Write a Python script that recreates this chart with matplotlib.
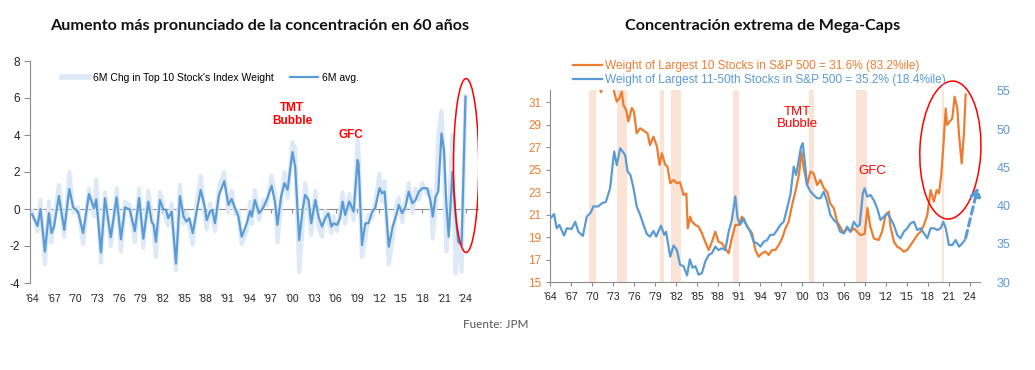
import matplotlib
matplotlib.use("Agg")
import matplotlib.pyplot as plt
from matplotlib.patches import Ellipse
from matplotlib.lines import Line2D

# ---------------- data: left chart ----------------
years_l = [1964.0, 1964.74, 1965.15, 1965.76, 1966.32, 1966.68, 1967.03, 1967.7, 1968.44, 1969.14,
           1969.68, 1970.35, 1971.05, 1971.86, 1972.56, 1972.87, 1973.52, 1974.08, 1974.88, 1975.69,
           1976.29, 1976.85, 1977.5, 1978.2, 1978.8, 1979.38, 1980.07, 1980.52, 1980.82, 1981.12,
           1981.68, 1982.13, 1982.53, 1982.83, 1983.3, 1983.9, 1984.45, 1984.95, 1985.35, 1985.76,
           1986.22, 1986.76, 1987.32, 1987.83, 1988.15, 1988.61, 1988.93, 1989.3, 1989.86, 1990.59,
           1991.16, 1991.6, 1992.08, 1992.54, 1993.0, 1993.7, 1994.16, 1994.39, 1994.82, 1995.4,
           1996.0, 1996.46, 1997.14, 1997.62, 1997.94, 1998.45, 1998.91, 1999.35, 2000.02, 2000.4,
           2000.95, 2001.41, 2001.78, 2002.25, 2002.62, 2003.19, 2003.63, 2004.1, 2004.56, 2005.0,
           2005.41, 2005.71, 2006.21, 2006.61, 2006.96, 2007.32, 2007.88, 2008.49, 2009.03, 2009.17,
           2009.64, 2010.1, 2010.55, 2011.06, 2011.46, 2012.07, 2012.42, 2012.78, 2013.35, 2013.89,
           2014.4, 2014.74, 2015.2, 2015.67, 2016.11, 2016.62, 2017.06, 2017.53, 2017.98, 2018.68,
           2019.14, 2019.44, 2019.83, 2020.2, 2020.65, 2020.99, 2021.31, 2021.65, 2022.16, 2022.6,
           2022.96, 2023.43, 2023.97]
avg_6m = [-0.29, -0.92, 0.0, -2.3, -0.23, -1.3, -0.95, 0.7, -1.13, 1.08,
          0.09, -0.15, -1.3, 0.81, 0.03, 0.52, -2.36, 0.58, -1.53, 0.63,
          -1.64, 0.09, -0.02, -1.2, 0.6, -1.6, 0.4, -0.68, -0.86, -1.77,
          0.49, -0.02, -0.05, -0.5, -0.14, -2.95, 0.7, -0.41, -0.68, -0.5,
          -1.3, -0.14, 1.03, 0.22, -0.6, -0.14, -0.05, -0.77, 0.76, 1.51,
          0.22, 0.54, 0.04, -0.41, -1.5, -0.77, -0.1, -0.41, 0.49, -0.23,
          0.09, 0.49, 1.26, 0.32, -0.86, 0.67, 1.4, 1.04, 3.08, 2.27,
          -1.68, -0.05, 0.76, 0.49, -0.77, 0.49, -0.41, -0.95, -0.5, -0.23,
          -0.95, -0.77, -0.86, -0.5, 0.4, -0.32, 0.4, -0.14, 2.65, 2.47,
          -1.95, -0.77, -0.77, -0.14, 0.04, 1.12, 0.85, 0.94, -2.04, -0.95,
          -0.32, 0.22, -0.23, 0.13, 0.94, 0.31, 0.49, 0.94, 1.12, 1.12,
          0.4, -0.41, 0.67, 0.94, 4.09, 3.2, 0.31, -1.5, 2.0, -0.32,
          -1.77, -1.95, 6.07]
chg_6m = [-0.1, -1.2, 0.5, -3.0, 0.4, -1.8, -0.6, 1.3, -1.5, 2.0,
          -0.2, 0.1, -1.9, 1.1, -0.4, 1.6, -2.9, 0.9, -2.0, 1.1,
          -2.3, 0.4, 0.2, -1.8, 1.1, -2.1, 1.0, -0.3, -1.2, -2.6,
          0.9, 0.3, -0.6, -0.9, 0.3, -3.3, 1.3, -0.8, -0.2, -1.0,
          -1.9, 0.3, 1.8, -0.2, -1.1, 0.3, -0.4, -1.2, 1.2, 2.0,
          -0.2, 1.0, -0.3, -0.1, -1.9, -1.2, 0.4, -0.8, 1.0, -0.6,
          0.5, 0.2, 1.8, 0.8, -1.8, 0.3, 2.0, 0.6, 3.6, 3.3,
          -3.4, -1.0, 1.4, 0.0, -1.4, 1.0, -1.0, -1.5, -0.1, -0.7,
          -1.3, -0.4, -1.2, -0.2, 0.9, -0.8, 0.8, -0.6, 3.7, 3.0,
          -2.6, -1.6, -0.3, -0.5, 0.3, 1.9, 0.4, 1.5, -3.0, -1.6,
          0.2, 0.6, -0.7, 0.5, 1.4, -0.2, 1.1, 0.5, 1.4, 0.8,
          1.0, -1.6, 0.2, 3.9, 5.3, 2.5, -2.3, -0.8, 4.0, -3.5,
          -1.0, -3.4, 6.1]

# ---------------- data: right chart ----------------
years_top10 = [1971.0, 1971.3, 1971.6, 1972.3, 1973.0, 1973.17, 1973.55, 1973.9, 1974.27, 1974.5,
               1974.9, 1975.2, 1975.7, 1976.0, 1976.4, 1976.9, 1977.37, 1977.95, 1978.3, 1978.8,
               1979.3, 1979.67, 1980.0, 1980.5, 1980.8, 1981.2, 1981.67, 1982.15, 1982.6, 1983.1,
               1983.5, 1983.7, 1984.06, 1984.3, 1984.8, 1985.25, 1985.73, 1986.2, 1986.7, 1987.16,
               1987.64, 1988.1, 1988.6, 1989.07, 1989.55, 1990.0, 1990.5, 1991.0, 1991.46, 1991.94,
               1992.4, 1992.9, 1993.37, 1993.85, 1994.3, 1994.8, 1995.28, 1995.76, 1996.23, 1996.7,
               1997.2, 1997.67, 1998.14, 1998.62, 1999.1, 1999.6, 1999.96, 2000.3, 2000.77, 2001.25,
               2001.7, 2002.2, 2002.68, 2003.16, 2003.64, 2004.1, 2004.6, 2005.07, 2005.5, 2006.02,
               2006.5, 2006.98, 2007.45, 2007.93, 2008.4, 2009.0, 2009.4, 2009.8, 2010.32, 2011.0,
               2011.5, 2011.99, 2012.47, 2012.7, 2013.2, 2013.66, 2014.14, 2014.6, 2015.1, 2015.57,
               2016.05, 2016.53, 2017.0, 2017.48, 2017.96, 2018.44, 2018.9, 2019.3, 2019.63, 2019.96,
               2020.25, 2020.6, 2020.8, 2021.16, 2021.54, 2021.87, 2022.26, 2022.5, 2022.88, 2023.2,
               2023.45]
top10 = [32.5, 31.9, 32.6, 33.5, 32.8, 31.95, 31.06, 31.35, 31.95, 30.76,
         30.3, 29.3, 30.5, 30.2, 28.25, 28.7, 28.5, 28.25, 27.2, 27.95,
         27.06, 25.43, 26.47, 25.43, 25.28, 23.8, 24.1, 23.8, 23.9, 22.76,
         22.9, 19.8, 20.84, 20.4, 20.1, 19.95, 19.36, 18.6, 17.87, 18.6,
         19.5, 18.6, 18.47, 18.0, 17.58, 18.9, 20.1, 20.1, 20.84, 20.24,
         19.8, 19.36, 17.87, 17.28, 17.58, 17.73, 17.43, 17.87, 17.87, 18.3,
         18.9, 19.8, 20.4, 21.87, 23.06, 24.54, 26.6, 25.13, 23.65, 24.84,
         24.7, 23.65, 24.1, 23.36, 23.06, 22.0, 21.57, 20.39, 19.94, 19.35,
         19.8, 19.5, 19.8, 19.5, 19.2, 19.3, 21.6, 20.0, 18.9, 18.76,
         19.5, 20.98, 21.28, 19.94, 18.6, 18.16, 18.0, 17.72, 17.87, 18.3,
         18.76, 19.2, 19.5, 20.1, 20.98, 23.2, 22.17, 23.2, 22.9, 24.54,
         27.06, 30.46, 29.0, 29.28, 29.58, 31.5, 30.46, 28.1, 25.57, 28.24,
         31.7]

years_11_50 = [1964.0, 1964.58, 1964.96, 1965.34, 1966.0, 1966.4, 1967.1, 1967.6, 1968.06, 1968.7,
               1969.26, 1969.83, 1970.2, 1970.9, 1971.4, 1972.0, 1972.6, 1973.17, 1973.55, 1974.03,
               1974.4, 1974.75, 1975.1, 1975.5, 1975.94, 1976.4, 1976.9, 1977.37, 1977.85, 1978.3,
               1978.8, 1979.2, 1979.86, 1980.33, 1980.6, 1981.2, 1981.67, 1982.15, 1982.6, 1983.1,
               1983.6, 1984.0, 1984.4, 1984.8, 1985.25, 1985.73, 1986.2, 1986.7, 1987.16, 1987.64,
               1988.1, 1988.6, 1989.07, 1989.55, 1990.0, 1990.5, 1990.84, 1991.2, 1991.7, 1992.2,
               1992.65, 1993.13, 1993.6, 1994.1, 1994.56, 1995.04, 1995.52, 1996.0, 1996.47, 1996.95,
               1997.43, 1997.9, 1998.38, 1998.86, 1999.2, 1999.58, 1999.91, 2000.15, 2000.44, 2000.77,
               2001.25, 2001.7, 2002.2, 2002.68, 2003.16, 2003.64, 2004.1, 2004.6, 2005.07, 2005.5,
               2006.02, 2006.5, 2006.98, 2007.45, 2007.93, 2008.3, 2008.74, 2009.0, 2009.36, 2009.84,
               2010.32, 2010.8, 2011.27, 2011.75, 2012.23, 2012.7, 2013.18, 2013.66, 2014.14, 2014.6,
               2015.1, 2015.57, 2016.05, 2016.53, 2017.0, 2017.48, 2017.96, 2018.44, 2018.9, 2019.39,
               2019.87, 2020.25, 2020.6, 2021.06, 2021.54, 2022.0, 2022.5, 2022.97, 2023.3]
stocks_11_50 = [38.3, 38.9, 37.05, 37.5, 36.1, 37.05, 36.96, 37.9, 36.6, 36.05,
                38.57, 39.1, 39.9, 39.9, 40.3, 40.5, 42.3, 47.06, 45.3, 47.5,
                47.06, 46.6, 44.45, 44.0, 42.3, 39.9, 38.8, 37.5, 36.3, 35.96,
                36.7, 35.96, 37.4, 36.2, 36.6, 33.35, 34.8, 34.2, 32.3, 32.1,
                30.9, 33.0, 31.9, 32.1, 31.0, 31.2, 32.7, 33.57, 33.8, 34.66,
                34.2, 34.44, 34.2, 36.6, 38.1, 41.2, 38.35, 37.5, 38.35, 37.27,
                36.6, 35.3, 35.1, 34.66, 35.3, 35.5, 36.2, 36.2, 36.8, 37.5,
                37.9, 39.66, 41.4, 45.1, 44.0, 45.97, 47.7, 48.15, 45.75, 42.7,
                41.84, 41.4, 40.97, 40.97, 41.84, 40.53, 38.78, 38.13, 37.7, 36.6,
                36.4, 37.26, 36.6, 37.9, 37.26, 37.5, 41.6, 42.27, 41.18, 41.4,
                40.7, 39.65, 38.13, 38.57, 39.0, 38.35, 37.48, 36.17, 35.74, 36.6,
                37.05, 37.7, 37.9, 36.83, 37.05, 36.4, 35.74, 37.05, 37.05, 36.83,
                37.05, 37.9, 37.05, 34.87, 34.87, 35.52, 34.65, 35.09, 35.5]

recession_start = [1969.6, 1973.55, 1979.8, 1981.3, 1990.2, 2001.1, 2007.7, 2020.0]
recession_end = [1970.6, 1975.0, 1980.3, 1982.7, 1991.1, 2001.8, 2009.4, 2020.3]

tick_years = list(range(1964, 2025, 3))
tick_labels = ["'" + str(y)[2:] for y in tick_years]

# ---------------- styling ----------------
C_ORANGE = "#ed7d31"
C_BLUE = "#5b9bd5"
C_LIGHT = "#dde9f6"
C_AXIS = "#8c8c8c"
C_REC = "#fbe3d5"

plt.rcParams["font.family"] = ["Liberation Sans", "DejaVu Sans"]
plt.rcParams["axes.unicode_minus"] = False

fig = plt.figure(figsize=(10.35, 3.7), dpi=100)

# ---------------- left chart ----------------
axl = fig.add_axes([30 / 1035, 1 - 283 / 370, 448 / 1035, 222 / 370])
axl.plot(years_l, chg_6m, color=C_LIGHT, lw=3.0, solid_joinstyle="round",
         label="6M Chg in Top 10 Stock's Index Weight", zorder=2)
axl.plot(years_l, avg_6m, color=C_BLUE, lw=1.6, label="6M avg.", zorder=3)
axl.set_xlim(1963.7, 2025.7)
axl.set_ylim(-4, 8)
axl.set_yticks([-4, -2, 0, 2, 4, 6, 8])
axl.set_xticks(tick_years)
axl.set_xticklabels(tick_labels)
for s in ["top", "right", "bottom"]:
    axl.spines[s].set_visible(False)
axl.spines["left"].set_color(C_AXIS)
axl.tick_params(axis="y", length=4, color=C_AXIS, labelsize=8.5, pad=3, labelcolor="#222222")
axl.tick_params(axis="x", length=0, labelsize=7.5, pad=8, labelcolor="#222222")
sec = axl.secondary_xaxis(1 / 3)
sec.set_xticks(tick_years)
sec.set_xticklabels([])
sec.spines["bottom"].set_color(C_AXIS)
sec.tick_params(axis="x", length=3, color=C_AXIS, direction="out")
leg = axl.legend(loc="upper left", bbox_to_anchor=(0.05, 0.99), ncol=2, frameon=False,
                 fontsize=7.5, handlelength=2.6, columnspacing=1.6, handletextpad=0.4)
leg.get_lines()[0].set_linewidth(4)
axl.text(2000.0, 5.1, "TMT\nBubble", color="red", fontsize=8.5, fontweight="bold",
         ha="center", va="center", linespacing=1.05)
axl.text(2008.1, 4.0, "GFC", color="red", fontsize=8.5, fontweight="bold",
         ha="center", va="center")
axl.add_patch(Ellipse((2024.05, 2.35), 3.5, 9.4, fill=False, edgecolor="red", lw=1.1, zorder=4))

# ---------------- right chart ----------------
axr = fig.add_axes([550 / 1035, 1 - 282.3 / 370, 430 / 1035, 192.3 / 370])
for a, b in zip(recession_start, recession_end):
    axr.axvspan(a, b, color=C_REC, lw=0, zorder=0)
axr.plot(years_top10, top10, color=C_ORANGE, lw=1.6, zorder=3)
axr.set_xlim(1964, 2025.5)
axr.set_ylim(15, 32.1)
axr.set_yticks([15, 17, 19, 21, 23, 25, 27, 29, 31])
axr.set_xticks(tick_years)
axr.set_xticklabels(tick_labels)
for s in ["top", "right"]:
    axr.spines[s].set_visible(False)
axr.spines["left"].set_color(C_AXIS)
axr.spines["bottom"].set_color(C_AXIS)
axr.tick_params(axis="y", length=3, color=C_AXIS, labelsize=8.5, labelcolor=C_ORANGE, pad=3)
axr.tick_params(axis="x", length=3, color=C_AXIS, labelsize=7.5, labelcolor="#222222", pad=4)

axr2 = axr.twinx()
axr2.plot(years_11_50, stocks_11_50, color=C_BLUE, lw=1.6, zorder=3)
axr2.set_ylim(30, 55.1)
axr2.set_yticks([30, 35, 40, 45, 50, 55])
for s in ["top", "right", "left", "bottom"]:
    axr2.spines[s].set_visible(False)
axr2.tick_params(axis="y", length=0, labelsize=9, labelcolor=C_BLUE, pad=12)
axr2.annotate("", xy=(2025.2, 42.4), xytext=(2023.45, 35.8), annotation_clip=False,
              arrowprops=dict(arrowstyle="-|>,head_length=0.5,head_width=0.3", color=C_BLUE,
                              lw=2.2, linestyle=(0, (2.5, 1.5)), shrinkA=0, shrinkB=0))

axr.text(1999.4, 29.6, "TMT\nBubble", color="red", fontsize=9.5, ha="center", va="center",
         linespacing=1.0, zorder=5)
axr.text(2010.1, 24.9, "GFC", color="red", fontsize=9.5, ha="center", va="center", zorder=5)
axr.add_patch(Ellipse((2021.26, 26.76), 8.7, 12.3, angle=-6, fill=False, edgecolor="red",
                      lw=1.1, zorder=6, clip_on=False))

handles = [Line2D([], [], color=C_ORANGE, lw=1.6), Line2D([], [], color=C_BLUE, lw=1.6)]
labels = ["Weight of Largest 10 Stocks in S&P 500 = 31.6% (83.2%ile)",
          "Weight of Largest 11-50th Stocks in S&P 500 = 35.2% (18.4%ile)"]
lg = fig.legend(handles, labels, loc="upper left", bbox_to_anchor=(567 / 1035, 1 - 54 / 370),
                frameon=False, fontsize=8.6, handlelength=2.4, handletextpad=0.3,
                labelspacing=0.2, borderpad=0)
for t, c in zip(lg.get_texts(), [C_ORANGE, C_BLUE]):
    t.set_color(c)

# ---------------- titles / source ----------------
fig.text(260 / 1035, 1 - 26 / 370, "Aumento más pronunciado de la concentración en 60 años",
         ha="center", va="center", fontsize=11.6, fontweight="bold", family=["Lato", "DejaVu Sans"],
         color="#111111")
fig.text(763 / 1035, 1 - 26 / 370, "Concentración extrema de Mega-Caps",
         ha="center", va="center", fontsize=11.6, fontweight="bold", family=["Lato", "DejaVu Sans"],
         color="#111111")
fig.text(496 / 1035, 1 - 325 / 370, "Fuente: JPM", ha="center", va="center", fontsize=8.5,
         family=["Lato", "DejaVu Sans"], color="#555555")

fig.savefig("out.png", dpi=100, facecolor="white")
